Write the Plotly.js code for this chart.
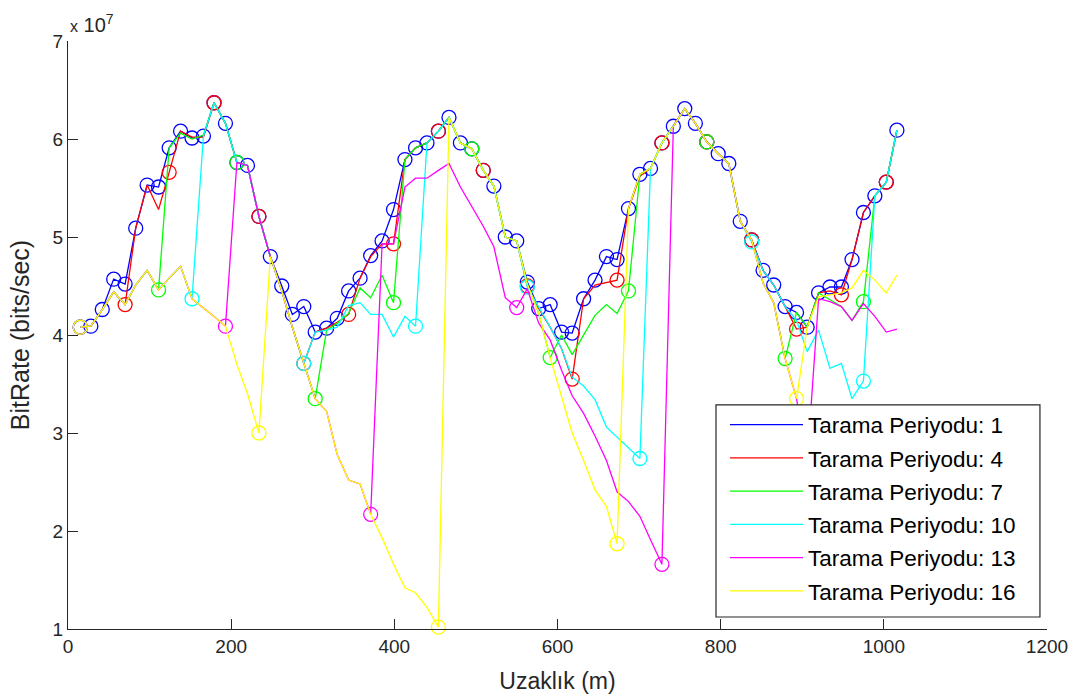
<!DOCTYPE html>
<html>
<head>
<meta charset="utf-8">
<script src="https://cdn.plot.ly/plotly-3.0.1.min.js"></script>
<style>html,body{margin:0;padding:0;background:#fff;}#chart{width:1080px;height:700px;}</style>
</head>
<body>
<div id="chart"></div>
<script>
// Distance of each sample (m)
const distance = [
  15, 28, 42, 56, 70, 83, 97, 111, 124, 138,
  152, 166, 179, 193, 207, 220, 234, 248, 262, 275,
  289, 303, 317, 330, 344, 358, 371, 385, 399, 413,
  426, 440, 454, 467, 481, 495, 509, 522, 536, 550,
  563, 577, 591, 605, 618, 632, 646, 660, 673, 687,
  701, 714, 728, 742, 756, 769, 783, 797, 810, 824,
  838, 852, 865, 879, 893, 906, 920, 934, 948, 961,
  975, 989, 1003, 1016
];

// BitRate values in units of 1e7 bits/sec
const rate_p1 = [
  4.08, 4.09, 4.26, 4.57, 4.52, 5.09, 5.53, 5.51, 5.91, 6.08,
  6.01, 6.03, 6.37, 6.16, 5.76, 5.73, 5.21, 4.80, 4.50, 4.21,
  4.29, 4.03, 4.07, 4.17, 4.45, 4.58, 4.81, 4.96, 5.28, 5.79,
  5.91, 5.96, 6.08, 6.22, 5.96, 5.90, 5.68, 5.52, 5.00, 4.96,
  4.54, 4.27, 4.31, 4.03, 4.02, 4.37, 4.56, 4.80, 4.77, 5.29,
  5.64, 5.70, 5.96, 6.13, 6.31, 6.16, 5.97, 5.85, 5.75, 5.16,
  4.97, 4.66, 4.51, 4.29, 4.23, 4.08, 4.43, 4.49, 4.49, 4.77,
  5.25, 5.42, 5.56, 6.09
];
const rate_p4 = [
  4.08, 4.09, 4.26, 4.44, 4.31, 5.09, 5.53, 5.28, 5.66, 6.08,
  6.02, 6.02, 6.37, 6.16, 5.76, 5.73, 5.21, 4.80, 4.45, 4.08,
  3.71, 4.03, 4.07, 4.13, 4.21, 4.58, 4.80, 4.93, 4.93, 5.79,
  5.91, 5.96, 6.08, 6.22, 5.96, 5.90, 5.68, 5.52, 5.00, 4.96,
  4.50, 4.27, 4.08, 3.86, 3.55, 4.37, 4.51, 4.54, 4.56, 5.29,
  5.62, 5.70, 5.96, 6.13, 6.31, 6.16, 5.97, 5.85, 5.75, 5.16,
  4.97, 4.66, 4.51, 4.29, 4.06, 4.08, 4.43, 4.45, 4.41, 4.77,
  5.25, 5.42, 5.56, 6.09
];
const rate_p7 = [
  4.08, 4.09, 4.26, 4.44, 4.31, 4.51, 4.66, 4.46, 5.91, 6.06,
  6.00, 6.04, 6.37, 6.16, 5.76, 5.73, 5.21, 4.80, 4.45, 4.08,
  3.71, 3.35, 4.05, 4.12, 4.22, 4.48, 4.38, 4.61, 4.33, 5.79,
  5.91, 5.96, 6.08, 6.22, 5.96, 5.90, 5.68, 5.52, 5.00, 4.96,
  4.52, 4.22, 3.77, 4.00, 3.80, 4.00, 4.20, 4.31, 4.22, 4.45,
  5.64, 5.70, 5.96, 6.13, 6.31, 6.16, 5.97, 5.85, 5.75, 5.16,
  4.97, 4.53, 4.33, 3.76, 4.23, 4.08, 4.43, 4.36, 4.29, 4.15,
  4.34, 5.42, 5.56, 6.09
];
const rate_p10 = [
  4.08, 4.09, 4.26, 4.44, 4.31, 4.51, 4.66, 4.46, 4.58, 4.70,
  4.37, 6.03, 6.37, 6.16, 5.76, 5.73, 5.21, 4.80, 4.45, 4.08,
  3.71, 4.03, 4.05, 4.08, 4.30, 4.33, 4.21, 4.21, 3.98, 4.19,
  4.09, 5.96, 6.08, 6.22, 5.96, 5.90, 5.68, 5.52, 5.00, 4.96,
  4.49, 4.29, 4.08, 3.86, 3.57, 3.48, 3.34, 3.06, 2.96, 2.85,
  2.74, 5.70, 5.96, 6.13, 6.31, 6.16, 5.97, 5.85, 5.75, 5.16,
  4.95, 4.66, 4.51, 4.29, 4.15, 3.83, 4.05, 3.66, 3.71, 3.35,
  3.53, 5.42, 5.56, 6.09
];
const rate_p13 = [
  4.08, 4.09, 4.26, 4.44, 4.31, 4.51, 4.66, 4.46, 4.58, 4.70,
  4.37, 4.28, 4.19, 4.09, 5.76, 5.73, 5.21, 4.80, 4.45, 4.08,
  3.71, 3.35, 3.22, 2.78, 2.52, 2.48, 2.17, 4.93, 4.93, 5.51,
  5.60, 5.60, 5.68, 5.75, 5.51, 5.31, 5.11, 4.90, 4.38, 4.28,
  4.47, 4.12, 3.95, 3.64, 3.38, 3.20, 2.97, 2.72, 2.40, 2.30,
  2.15, 1.91, 1.66, 6.13, 6.31, 6.16, 5.97, 5.85, 5.75, 5.16,
  4.97, 4.53, 4.33, 3.76, 3.35, 2.70, 4.37, 4.34, 4.29, 4.15,
  4.32, 4.19, 4.03, 4.06
];
const rate_p16 = [
  4.08, 4.09, 4.26, 4.44, 4.31, 4.51, 4.66, 4.46, 4.58, 4.70,
  4.37, 4.28, 4.19, 4.09, 3.70, 3.40, 3.00, 4.80, 4.45, 4.08,
  3.71, 3.35, 3.22, 2.78, 2.52, 2.48, 2.17, 1.93, 1.66, 1.42,
  1.37, 1.22, 1.02, 6.22, 5.96, 5.90, 5.68, 5.52, 5.00, 4.96,
  4.52, 4.22, 3.77, 3.36, 3.00, 2.72, 2.42, 2.25, 1.87, 5.29,
  5.64, 5.70, 5.96, 6.13, 6.31, 6.16, 5.97, 5.85, 5.75, 5.16,
  4.97, 4.53, 4.33, 3.76, 3.35, 4.08, 4.39, 4.41, 4.43, 4.48,
  4.66, 4.56, 4.43, 4.61
];

const periods = [1, 4, 7, 10, 13, 16];
const seriesNames = ['Tarama Periyodu: 1','Tarama Periyodu: 4','Tarama Periyodu: 7',
                     'Tarama Periyodu: 10','Tarama Periyodu: 13','Tarama Periyodu: 16'];
const seriesColors = ['#0000ff','#ff0000','#00ff00','#00ffff','#ff00ff','#ffff00'];
const seriesValues = [rate_p1, rate_p4, rate_p7, rate_p10, rate_p13, rate_p16];

const xTicks = [0, 200, 400, 600, 800, 1000, 1200];
const yTicks = [1, 2, 3, 4, 5, 6, 7];

const FONT = 'Liberation Sans, Arial, Helvetica, sans-serif';
const traces = [];
seriesValues.forEach((vals, s) => {
  traces.push({
    x: distance, y: vals, type: 'scatter', mode: 'lines',
    name: seriesNames[s], legendgroup: 'g' + s,
    line: {color: seriesColors[s], width: 1.3},
    hoverinfo: 'x+y'
  });
  const idx = vals.map((v, i) => i).filter(i => i % periods[s] === 0);
  traces.push({
    x: idx.map(i => distance[i]), y: idx.map(i => vals[i]),
    type: 'scatter', mode: 'markers', showlegend: false, legendgroup: 'g' + s,
    cliponaxis: false,
    marker: {symbol: 'circle-open', size: 14, color: seriesColors[s], line: {width: 1.3, color: seriesColors[s]}},
    hoverinfo: 'x+y'
  });
});

const axisCommon = {
  showgrid: false, zeroline: false, showline: true, linecolor: '#262626', linewidth: 1,
  ticks: 'inside', ticklen: 10, tickwidth: 1, tickcolor: '#262626',
  tickfont: {family: FONT, size: 19, color: '#262626'}, mirror: false
};

const layout = {
  width: 1080, height: 700,
  margin: {l: 68, r: 33, t: 41, b: 71, pad: 0},
  paper_bgcolor: '#ffffff', plot_bgcolor: '#ffffff',
  font: {family: FONT, color: '#262626'},
  showlegend: true,
  xaxis: Object.assign({}, axisCommon, {
    range: [0, 1200], tickvals: xTicks, ticktext: xTicks.map(String),
    title: {text: 'Uzaklık (m)', font: {family: FONT, size: 23, color: '#262626'}, standoff: 17}
  }),
  yaxis: Object.assign({}, axisCommon, {
    range: [1, 7], tickvals: yTicks, ticktext: yTicks.map(String),
    title: {text: 'BitRate (bits/sec)', font: {family: FONT, size: 25, color: '#262626'}, standoff: 15}
  }),
  legend: {
    x: 0.6711, y: 0.3835, xanchor: 'left', yanchor: 'top',
    bgcolor: 'rgba(0,0,0,0)', borderwidth: 0,
    font: {family: FONT, size: 22.5, color: '#000000'},
    itemwidth: 73, tracegroupgap: 1, traceorder: 'grouped'
  },
  shapes: [{
    type: 'rect', xref: 'paper', yref: 'paper', layer: 'above',
    x0: 0.6619, x1: 0.9928, y0: 0.0204, y1: 0.381,
    fillcolor: '#ffffff', line: {color: '#262626', width: 1.2}
  }],
  annotations: [{
    xref: 'paper', yref: 'paper', x: 0, y: 1, xanchor: 'left', yanchor: 'bottom',
    yshift: 3, showarrow: false,
    text: '<span style="font-size:16px">x</span> 10<sup>7</sup>',
    font: {family: FONT, size: 20, color: '#262626'}
  }]
};

Plotly.newPlot('chart', traces, layout, {displayModeBar: false, staticPlot: true});
</script>
</body>
</html>
